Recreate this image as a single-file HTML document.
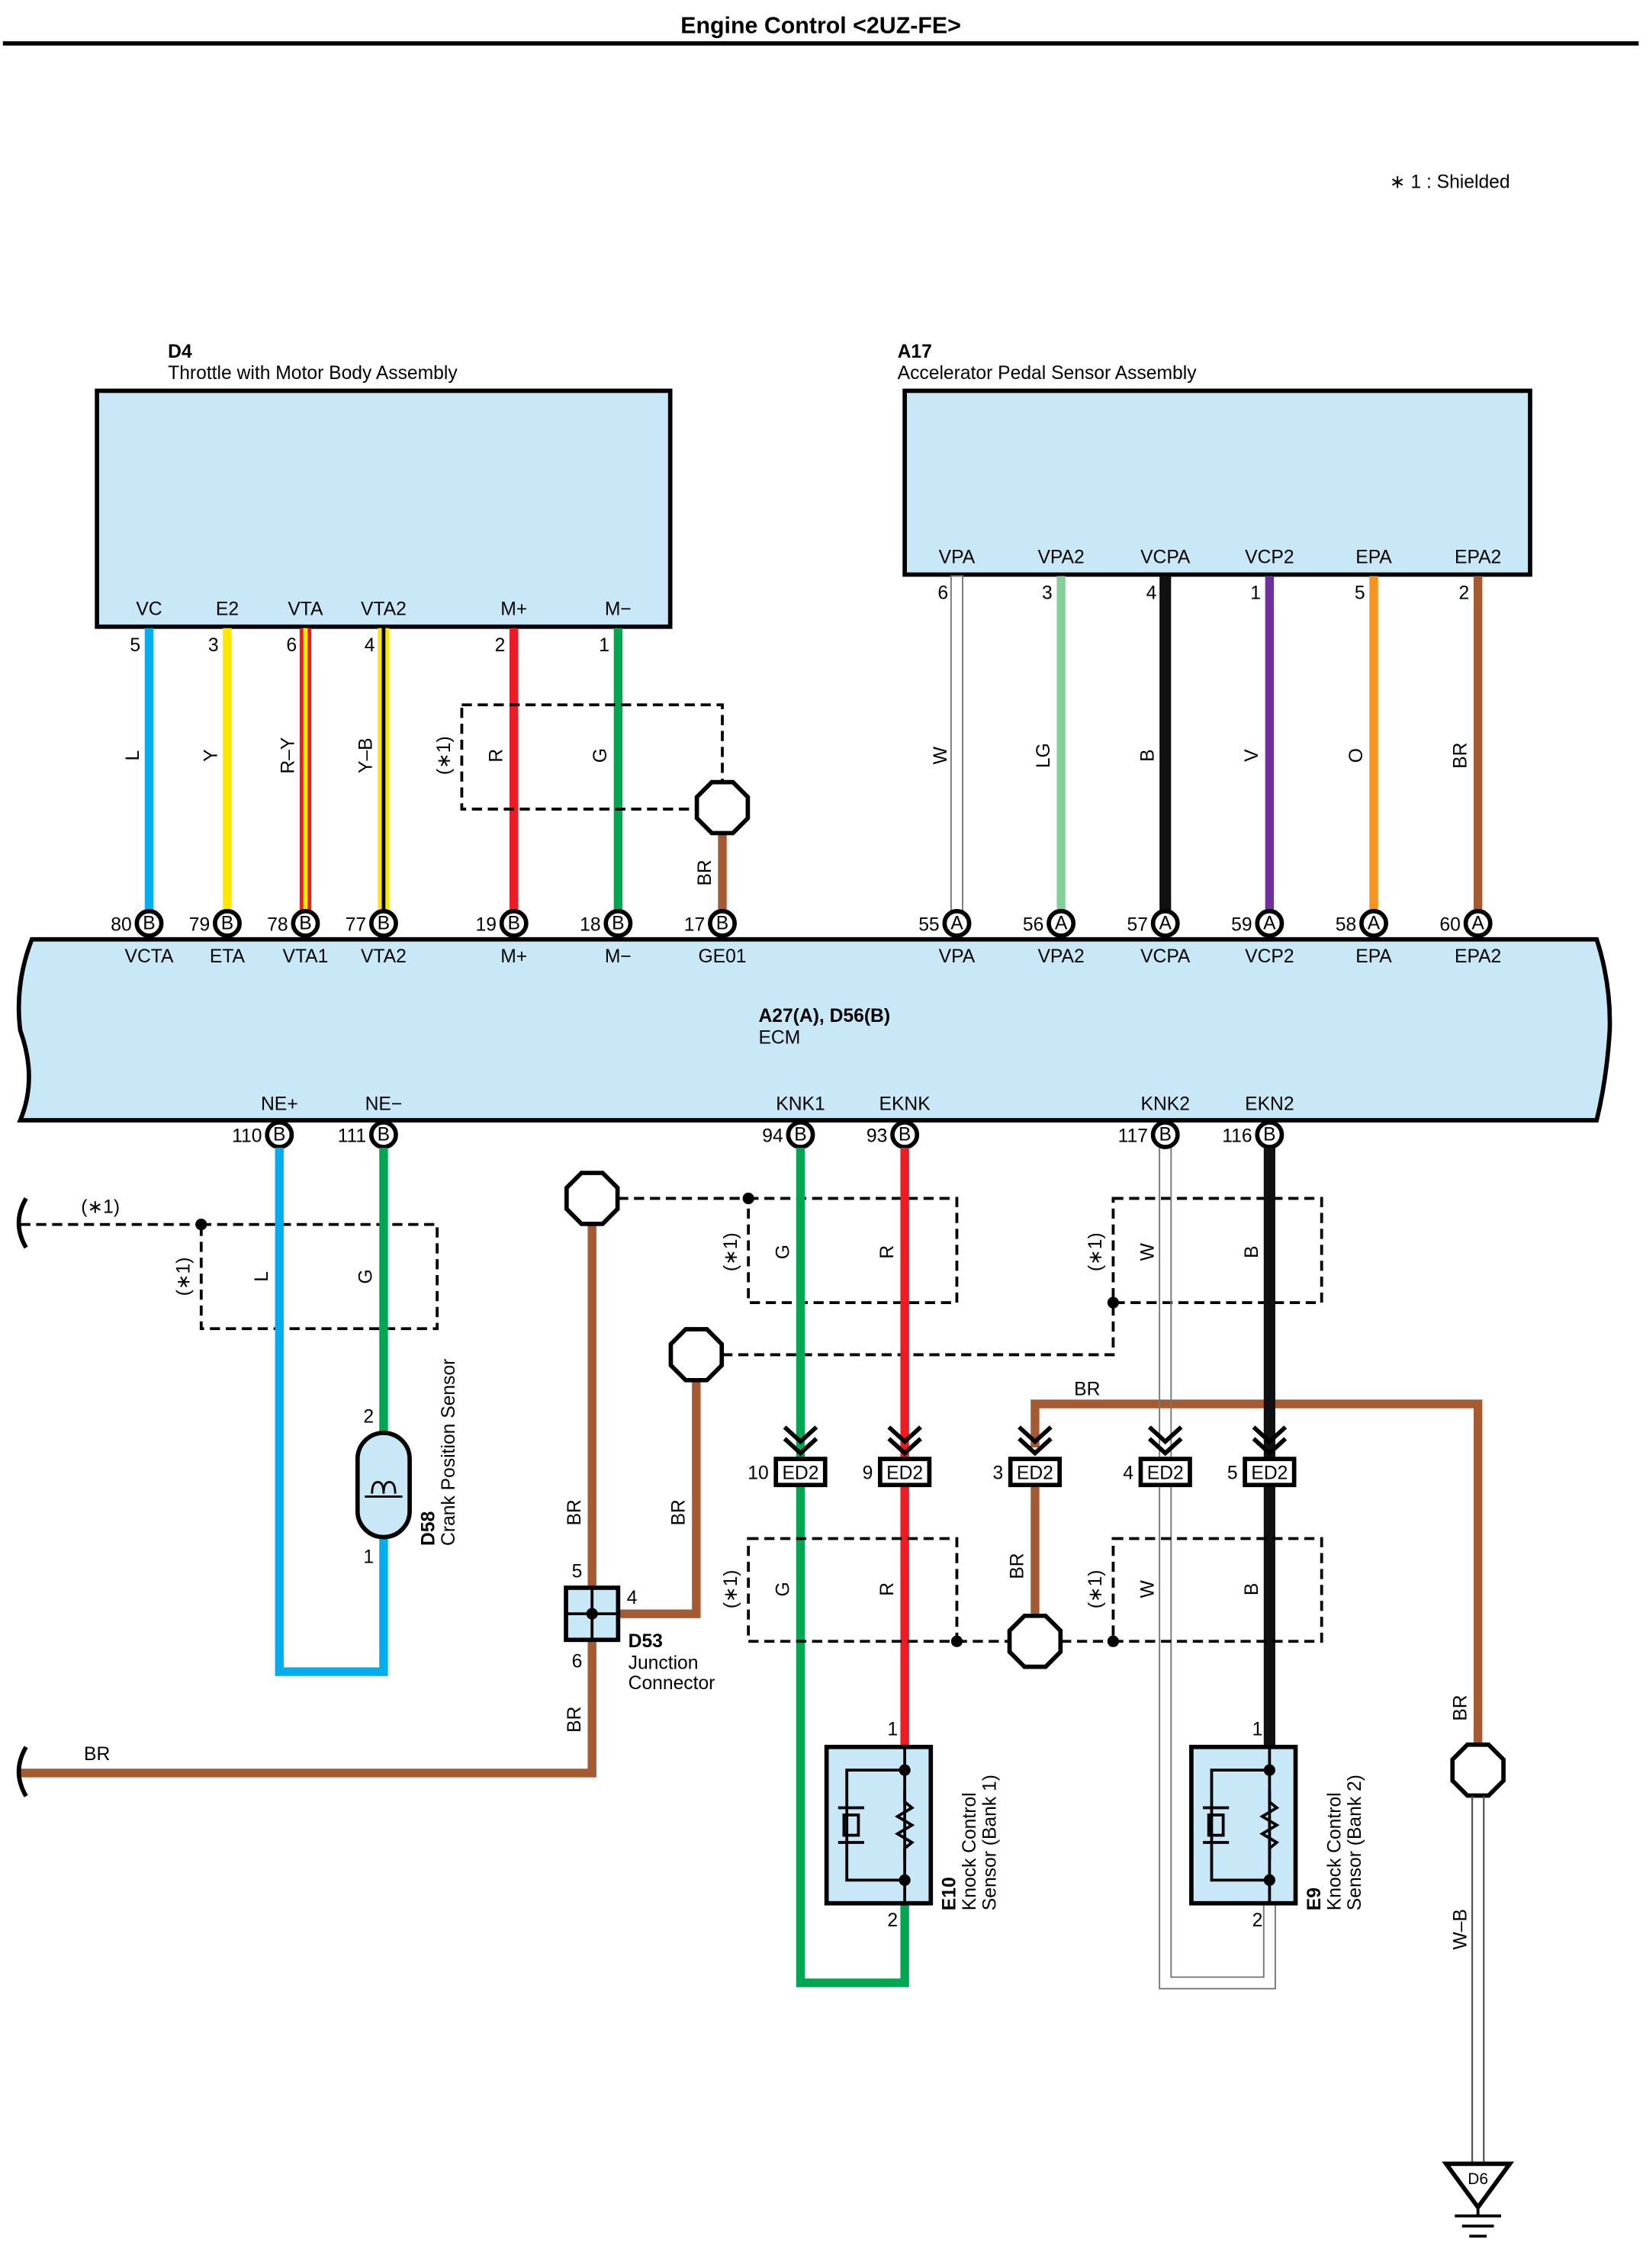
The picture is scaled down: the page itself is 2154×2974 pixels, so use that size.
<!DOCTYPE html>
<html><head><meta charset="utf-8"><style>
html,body{margin:0;padding:0;background:#fff}
svg{display:block}
text{font-family:"Liberation Sans",sans-serif;font-size:13px;fill:#000}
.b{font-weight:bold}
.w{fill:none;stroke-width:6;stroke-linecap:butt}
.d{fill:none;stroke:#000;stroke-width:2;stroke-dasharray:7,4}
.bx{fill:#c8e8f8;stroke:#000;stroke-width:3}
.oc{fill:#fff;stroke:#000;stroke-width:3}
.ed{fill:#fff;stroke:#000;stroke-width:3}
</style></head><body>
<svg width="2154" height="2974" viewBox="0 0 1135 1567" preserveAspectRatio="none" xmlns="http://www.w3.org/2000/svg">
<defs>
<polygon id="oct" points="-7.3,-17.6 7.3,-17.6 17.6,-7.3 17.6,7.3 7.3,17.6 -7.3,17.6 -17.6,7.3 -17.6,-7.3" class="oc"/>
<g id="chev"><polyline points="-11,-20 0,-10 11,-20" fill="none" stroke="#000" stroke-width="3"/><polyline points="-11,-12 0,-2 11,-12" fill="none" stroke="#000" stroke-width="3"/></g>
<g id="ks">
<rect x="-54" y="0" width="72" height="108" class="bx"/>
<line x1="0" y1="0" x2="0" y2="108" stroke="#000" stroke-width="2"/>
<polyline points="0,16 -40,16 -40,92 0,92" fill="none" stroke="#000" stroke-width="2"/>
<polyline points="0,30 0,38 5,42 -5,48 5,54 -5,60 5,66 0,70 0,78" fill="none" stroke="#000" stroke-width="2"/>
<line x1="-46" y1="42" x2="-28" y2="42" stroke="#000" stroke-width="2"/>
<rect x="-42" y="47" width="10" height="14" fill="none" stroke="#000" stroke-width="2"/>
<line x1="-46" y1="66" x2="-28" y2="66" stroke="#000" stroke-width="2"/>
<circle cx="0" cy="16" r="4"/><circle cx="0" cy="92" r="4"/>
</g>
</defs>

<text x="567" y="23" text-anchor="middle" class="b" style="font-size:16px">Engine Control &lt;2UZ-FE&gt;</text>
<line x1="2" y1="30" x2="1132" y2="30" stroke="#000" stroke-width="3"/>
<text x="960" y="130">∗ 1 : Shielded</text>

<!-- D4 -->
<text x="116" y="247" class="b">D4</text>
<text x="116" y="262">Throttle with Motor Body Assembly</text>
<rect x="67" y="270" width="396" height="163" class="bx"/>
<g text-anchor="middle">
<text x="103" y="425">VC</text><text x="157" y="425">E2</text><text x="211" y="425">VTA</text><text x="265" y="425">VTA2</text><text x="355" y="425">M+</text><text x="427" y="425">M−</text>
</g>
<g text-anchor="end">
<text x="97" y="450">5</text><text x="151" y="450">3</text><text x="205" y="450">6</text><text x="259" y="450">4</text><text x="349" y="450">2</text><text x="421" y="450">1</text>
</g>
<line x1="103" y1="434" x2="103" y2="630" class="w" stroke="#00aeef"/>
<line x1="157" y1="434" x2="157" y2="630" class="w" stroke="#ffe600"/>
<line x1="211" y1="434" x2="211" y2="630" class="w" stroke="#ed1c24" style="stroke-width:8"/>
<line x1="211" y1="434" x2="211" y2="630" stroke="#ffe600" stroke-width="3"/>
<line x1="265" y1="434" x2="265" y2="630" class="w" stroke="#ffe600" style="stroke-width:8"/>
<line x1="265" y1="434" x2="265" y2="630" stroke="#000" stroke-width="2.5"/>
<line x1="355" y1="434" x2="355" y2="630" class="w" stroke="#ed1c24"/>
<line x1="427" y1="434" x2="427" y2="630" class="w" stroke="#00a651"/>
<rect x="319" y="487" width="180" height="72" class="d"/>
<line x1="499" y1="576" x2="499" y2="630" class="w" stroke="#a65a32"/>
<use href="#oct" x="499" y="558"/>
<g text-anchor="middle">
<text transform="translate(96,522) rotate(-90)">L</text>
<text transform="translate(150,522) rotate(-90)">Y</text>
<text transform="translate(203,522) rotate(-90)">R–Y</text>
<text transform="translate(257,522) rotate(-90)">Y–B</text>
<text transform="translate(311,522) rotate(-90)">(∗1)</text>
<text transform="translate(347,522) rotate(-90)">R</text>
<text transform="translate(419,522) rotate(-90)">G</text>
<text transform="translate(491,603) rotate(-90)">BR</text>
</g>

<!-- A17 -->
<text x="620" y="247" class="b">A17</text>
<text x="620" y="262">Accelerator Pedal Sensor Assembly</text>
<rect x="625" y="270" width="432" height="127" class="bx"/>
<g text-anchor="middle">
<text x="661" y="389">VPA</text><text x="733" y="389">VPA2</text><text x="805" y="389">VCPA</text><text x="877" y="389">VCP2</text><text x="949" y="389">EPA</text><text x="1021" y="389">EPA2</text>
</g>
<g text-anchor="end">
<text x="655" y="414">6</text><text x="727" y="414">3</text><text x="799" y="414">4</text><text x="871" y="414">1</text><text x="943" y="414">5</text><text x="1015" y="414">2</text>
</g>
<rect x="657" y="398" width="8" height="232" fill="#fff" stroke="#777" stroke-width="1"/>
<line x1="733" y1="398" x2="733" y2="630" class="w" stroke="#86cf9a"/>
<line x1="805" y1="398" x2="805" y2="630" class="w" stroke="#111" style="stroke-width:8"/>
<line x1="877" y1="398" x2="877" y2="630" class="w" stroke="#7030a0"/>
<line x1="949" y1="398" x2="949" y2="630" class="w" stroke="#f7941d"/>
<line x1="1021" y1="398" x2="1021" y2="630" class="w" stroke="#a65a32"/>
<g text-anchor="middle">
<text transform="translate(654,522) rotate(-90)">W</text>
<text transform="translate(725,522) rotate(-90)">LG</text>
<text transform="translate(797,522) rotate(-90)">B</text>
<text transform="translate(869,522) rotate(-90)">V</text>
<text transform="translate(941,522) rotate(-90)">O</text>
<text transform="translate(1013,522) rotate(-90)">BR</text>
</g>

<!-- ECM -->
<path d="M22,649 L1103,649 Q1113,680 1112,712 Q1110,745 1103,774 L14,774 Q26,745 14,712 Q10,680 22,649 Z" class="bx"/>
<text x="524" y="706" class="b">A27(A), D56(B)</text>
<text x="524" y="721">ECM</text>
<g text-anchor="middle">
<text x="103" y="665">VCTA</text><text x="157" y="665">ETA</text><text x="211" y="665">VTA1</text><text x="265" y="665">VTA2</text><text x="355" y="665">M+</text><text x="427" y="665">M−</text><text x="499" y="665">GE01</text>
<text x="661" y="665">VPA</text><text x="733" y="665">VPA2</text><text x="805" y="665">VCPA</text><text x="877" y="665">VCP2</text><text x="949" y="665">EPA</text><text x="1021" y="665">EPA2</text>
<text x="193" y="767">NE+</text><text x="265" y="767">NE−</text><text x="553" y="767">KNK1</text><text x="625" y="767">EKNK</text><text x="805" y="767">KNK2</text><text x="877" y="767">EKN2</text>
</g>
<g text-anchor="end">
<text x="91" y="643">80</text><text x="145" y="643">79</text><text x="199" y="643">78</text><text x="253" y="643">77</text><text x="343" y="643">19</text><text x="415" y="643">18</text><text x="487" y="643">17</text>
<text x="649" y="643">55</text><text x="721" y="643">56</text><text x="793" y="643">57</text><text x="865" y="643">59</text><text x="937" y="643">58</text><text x="1009" y="643">60</text>
<text x="181" y="789">110</text><text x="253" y="789">111</text><text x="541" y="789">94</text><text x="613" y="789">93</text><text x="793" y="789">117</text><text x="865" y="789">116</text>
</g>
<g text-anchor="middle" style="font-size:11px">
<g fill="#fff" stroke="#000" stroke-width="3">
<circle cx="103" cy="638" r="8.5"/><circle cx="157" cy="638" r="8.5"/><circle cx="211" cy="638" r="8.5"/><circle cx="265" cy="638" r="8.5"/><circle cx="355" cy="638" r="8.5"/><circle cx="427" cy="638" r="8.5"/><circle cx="499" cy="638" r="8.5"/>
<circle cx="661" cy="638" r="8.5"/><circle cx="733" cy="638" r="8.5"/><circle cx="805" cy="638" r="8.5"/><circle cx="877" cy="638" r="8.5"/><circle cx="949" cy="638" r="8.5"/><circle cx="1021" cy="638" r="8.5"/>
<circle cx="193" cy="784" r="8.5"/><circle cx="265" cy="784" r="8.5"/><circle cx="553" cy="784" r="8.5"/><circle cx="625" cy="784" r="8.5"/><circle cx="805" cy="784" r="8.5"/><circle cx="877" cy="784" r="8.5"/>
</g>
<text x="103" y="642">B</text><text x="157" y="642">B</text><text x="211" y="642">B</text><text x="265" y="642">B</text><text x="355" y="642">B</text><text x="427" y="642">B</text><text x="499" y="642">B</text>
<text x="661" y="642">A</text><text x="733" y="642">A</text><text x="805" y="642">A</text><text x="877" y="642">A</text><text x="949" y="642">A</text><text x="1021" y="642">A</text>
<text x="193" y="788">B</text><text x="265" y="788">B</text><text x="553" y="788">B</text><text x="625" y="788">B</text><text x="805" y="788">B</text><text x="877" y="788">B</text>
</g>

<!-- Crank sensor area -->
<path d="M18,828 Q8,845 18,862" fill="none" stroke="#000" stroke-width="3"/>
<line x1="14" y1="846" x2="139" y2="846" class="d"/>
<rect x="139" y="846" width="163" height="72" class="d"/>
<circle cx="139" cy="846" r="4"/>
<text x="56" y="838">(∗1)</text>
<polyline points="193,793 193,1155 265,1155 265,1062" class="w" stroke="#00aeef"/>
<line x1="265" y1="793" x2="265" y2="992" class="w" stroke="#00a651"/>
<rect x="247" y="990" width="36" height="72" rx="18" class="bx"/>
<path d="M257,1032 q0,-8 4,-8 q4,0 4,8 q0,-8 4,-8 q4,0 4,8" fill="none" stroke="#000" stroke-width="1.5"/>
<line x1="252" y1="1034" x2="278" y2="1034" stroke="#000" stroke-width="1.5"/>
<text x="251" y="983">2</text><text x="251" y="1080">1</text>
<g text-anchor="middle">
<text transform="translate(131,882) rotate(-90)">(∗1)</text>
<text transform="translate(185,882) rotate(-90)">L</text>
<text transform="translate(257,882) rotate(-90)">G</text>
</g>
<text transform="translate(300,1068) rotate(-90)" class="b">D58</text>
<text transform="translate(314,1068) rotate(-90)">Crank Position Sensor</text>

<!-- Junction / BR -->
<line x1="427" y1="828" x2="517" y2="828" class="d"/>
<circle cx="517" cy="828" r="4"/>
<rect x="517" y="828" width="144" height="72" class="d"/>
<polyline points="409,846 409,1225 14,1225" class="w" stroke="#a65a32"/>
<use href="#oct" x="409" y="828"/>
<path d="M18,1207 Q8,1224 18,1241" fill="none" stroke="#000" stroke-width="3"/>
<text x="58" y="1216">BR</text>
<polyline points="499,936 769,936 769,900" class="d"/>
<circle cx="769" cy="900" r="4"/>
<rect x="769" y="828" width="144" height="72" class="d"/>
<polyline points="481,954 481,1115 427,1115" class="w" stroke="#a65a32"/>
<use href="#oct" x="481" y="936"/>
<rect x="391" y="1097" width="36" height="36" class="bx"/>
<line x1="409" y1="1097" x2="409" y2="1133" stroke="#000" stroke-width="2"/>
<line x1="391" y1="1115" x2="427" y2="1115" stroke="#000" stroke-width="2"/>
<circle cx="409" cy="1115" r="4"/>
<text x="395" y="1090">5</text><text x="433" y="1108">4</text><text x="395" y="1152">6</text>
<text x="434" y="1138" class="b">D53</text><text x="434" y="1153">Junction</text><text x="434" y="1167">Connector</text>
<g text-anchor="middle">
<text transform="translate(401,1045) rotate(-90)">BR</text>
<text transform="translate(473,1045) rotate(-90)">BR</text>
<text transform="translate(401,1188) rotate(-90)">BR</text>
</g>

<!-- Knock wires -->
<polyline points="715,1000 715,970 1021,970 1021,1205" class="w" stroke="#a65a32"/>
<text x="742" y="964">BR</text>
<polyline points="553,793 553,1370 625,1370 625,1315" class="w" stroke="#00a651"/>
<line x1="625" y1="793" x2="625" y2="1207" class="w" stroke="#ed1c24"/>
<path d="M801,793 V1374 H881 V1315 M809,793 V1366 H873 V1315" fill="none" stroke="#777" stroke-width="1"/>
<line x1="877" y1="793" x2="877" y2="1207" class="w" stroke="#111" style="stroke-width:8"/>
<line x1="715" y1="1026" x2="715" y2="1116" class="w" stroke="#a65a32"/>
<g text-anchor="middle">
<text transform="translate(509,865) rotate(-90)">(∗1)</text>
<text transform="translate(545,865) rotate(-90)">G</text>
<text transform="translate(617,865) rotate(-90)">R</text>
<text transform="translate(761,865) rotate(-90)">(∗1)</text>
<text transform="translate(797,865) rotate(-90)">W</text>
<text transform="translate(869,865) rotate(-90)">B</text>
</g>
<use href="#chev" x="553" y="1006"/><use href="#chev" x="625" y="1006"/><use href="#chev" x="715" y="1006"/><use href="#chev" x="805" y="1006"/><use href="#chev" x="877" y="1006"/>
<g text-anchor="middle">
<rect x="536" y="1008" width="34" height="18" class="ed"/><text x="553" y="1022">ED2</text>
<rect x="608" y="1008" width="34" height="18" class="ed"/><text x="625" y="1022">ED2</text>
<rect x="698" y="1008" width="34" height="18" class="ed"/><text x="715" y="1022">ED2</text>
<rect x="788" y="1008" width="34" height="18" class="ed"/><text x="805" y="1022">ED2</text>
<rect x="860" y="1008" width="34" height="18" class="ed"/><text x="877" y="1022">ED2</text>
</g>
<g text-anchor="end">
<text x="531" y="1022">10</text><text x="603" y="1022">9</text><text x="693" y="1022">3</text><text x="783" y="1022">4</text><text x="855" y="1022">5</text>
</g>
<rect x="517" y="1063" width="144" height="71" class="d"/>
<rect x="769" y="1063" width="144" height="71" class="d"/>
<line x1="661" y1="1134" x2="697" y2="1134" class="d"/>
<line x1="733" y1="1134" x2="769" y2="1134" class="d"/>
<circle cx="661" cy="1134" r="4"/><circle cx="769" cy="1134" r="4"/>
<use href="#oct" x="715" y="1134"/>
<g text-anchor="middle">
<text transform="translate(509,1098) rotate(-90)">(∗1)</text>
<text transform="translate(545,1098) rotate(-90)">G</text>
<text transform="translate(617,1098) rotate(-90)">R</text>
<text transform="translate(707,1082) rotate(-90)">BR</text>
<text transform="translate(761,1098) rotate(-90)">(∗1)</text>
<text transform="translate(797,1098) rotate(-90)">W</text>
<text transform="translate(869,1098) rotate(-90)">B</text>
</g>
<use href="#ks" x="625" y="1207"/>
<use href="#ks" x="877" y="1207"/>
<text x="613" y="1199">1</text><text x="613" y="1331">2</text>
<text x="865" y="1199">1</text><text x="865" y="1331">2</text>
<text transform="translate(660,1320) rotate(-90)" class="b">E10</text>
<text transform="translate(674,1320) rotate(-90)">Knock Control</text>
<text transform="translate(688,1320) rotate(-90)">Sensor (Bank 1)</text>
<text transform="translate(912,1320) rotate(-90)" class="b">E9</text>
<text transform="translate(926,1320) rotate(-90)">Knock Control</text>
<text transform="translate(940,1320) rotate(-90)">Sensor (Bank 2)</text>

<!-- Ground -->
<text transform="translate(1013,1180) rotate(-90)" text-anchor="middle">BR</text>
<use href="#oct" x="1021" y="1223"/>
<path d="M1017,1241 V1495 M1025,1241 V1495" fill="none" stroke="#555" stroke-width="1.2"/>
<text transform="translate(1013,1333) rotate(-90)" text-anchor="middle">W–B</text>
<polygon points="999,1495 1043,1495 1021,1525" fill="#fff" stroke="#000" stroke-width="3"/>
<text x="1021" y="1509" text-anchor="middle" style="font-size:11px">D6</text>
<line x1="1021" y1="1525" x2="1021" y2="1531" stroke="#000" stroke-width="2"/>
<line x1="1005" y1="1531" x2="1037" y2="1531" stroke="#000" stroke-width="2"/>
<line x1="1010" y1="1538" x2="1032" y2="1538" stroke="#000" stroke-width="2"/>
<line x1="1015" y1="1545" x2="1027" y2="1545" stroke="#000" stroke-width="2"/>
</svg>
</body></html>
